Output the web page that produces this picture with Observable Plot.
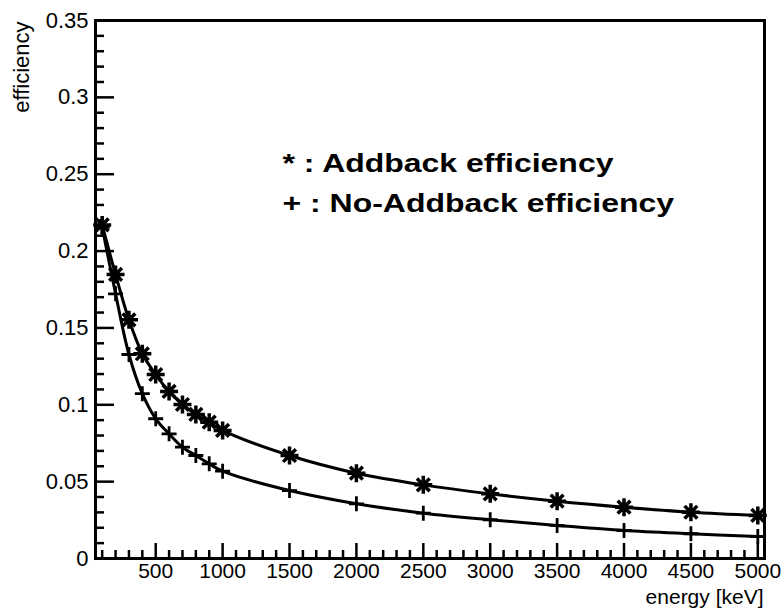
<!DOCTYPE html>
<html>
<head>
<meta charset="utf-8">
<script src="https://cdn.jsdelivr.net/npm/d3@7"></script>
<script src="https://cdn.jsdelivr.net/npm/@observablehq/plot@0.6"></script>
<style>
  html, body { margin: 0; padding: 0; background: #fff; }
  #chart { width: 782px; height: 609px; }
</style>
</head>
<body>
<div id="chart"></div>
<script>
// Gamma energies (keV) at which the efficiency was evaluated
const energies = [100, 200, 300, 400, 500, 600, 700, 800, 900, 1000,
                  1500, 2000, 2500, 3000, 3500, 4000, 4500, 5000];
// Photopeak efficiency with addback
const addback = [0.2170, 0.1848, 0.1553, 0.1332, 0.1197, 0.1087, 0.1002, 0.0937, 0.0887, 0.0833,
                 0.0670, 0.0555, 0.0479, 0.0421, 0.0373, 0.0334, 0.0301, 0.0280];
// Photopeak efficiency without addback
const noAddback = [0.2155, 0.1722, 0.1327, 0.1072, 0.0909, 0.0811, 0.0724, 0.0670, 0.0616, 0.0568,
                   0.0442, 0.0356, 0.0295, 0.0252, 0.0215, 0.0182, 0.0161, 0.0143];

// Axis tick labels
const xTickLabels = [500, 1000, 1500, 2000, 2500, 3000, 3500, 4000, 4500, 5000];
const yTickLabels = ["0", "0.05", "0.1", "0.15", "0.2", "0.25", "0.3", "0.35"];
const legendLabels = ["* : Addback efficiency", "+ : No-Addback efficiency"];

const width = 782, height = 609;
const margin = {top: 20, right: 18, bottom: 51, left: 95};
const innerW = width - margin.left - margin.right;
const innerH = height - margin.top - margin.bottom;

const ab = energies.map((e, i) => ({e, v: addback[i]}));
const nab = energies.map((e, i) => ({e, v: noAddback[i]}));

const yMajor = yTickLabels.map(Number);
const yMinor = d3.range(0, 36).map(i => i / 100).filter(v => !yMajor.some(m => Math.abs(m - v) < 1e-9));
const xMinor = d3.range(100, 5001, 100).filter(v => v % 500 !== 0);

// ROOT-like markers: eight-armed asterisk and plus
const asterisk = {
  draw(ctx, size) {
    const r = Math.sqrt(size / Math.PI), d = r * Math.SQRT1_2;
    ctx.moveTo(-r, 0); ctx.lineTo(r, 0);
    ctx.moveTo(0, -r); ctx.lineTo(0, r);
    ctx.moveTo(-d, -d); ctx.lineTo(d, d);
    ctx.moveTo(-d, d); ctx.lineTo(d, -d);
  }
};
const plus = {
  draw(ctx, size) {
    const r = Math.sqrt(size / Math.PI);
    ctx.moveTo(-r, 0); ctx.lineTo(r, 0);
    ctx.moveTo(0, -r); ctx.lineTo(0, r);
  }
};

const font = "'Liberation Sans', Arial, Helvetica, sans-serif";

const chart = Plot.plot({
  width, height,
  marginTop: margin.top, marginRight: margin.right,
  marginBottom: margin.bottom, marginLeft: margin.left,
  style: {fontFamily: font, fontSize: "22px", color: "black", background: "white"},
  x: {domain: [50, 5050]},
  y: {domain: [0, 0.35]},
  marks: [
    // inward ticks along the bottom axis
    Plot.tickX(xMinor, {x: d => d, insetTop: innerH - 8, stroke: "black", strokeWidth: 2.5}),
    Plot.tickX(xTickLabels, {x: d => d, insetTop: innerH - 15, stroke: "black", strokeWidth: 2.5}),
    // inward ticks along the left axis
    Plot.tickY(yMinor, {y: d => d, insetRight: innerW - 9, stroke: "black", strokeWidth: 2.5}),
    Plot.tickY(yMajor, {y: d => d, insetRight: innerW - 19, stroke: "black", strokeWidth: 2.5}),
    Plot.axisX(xTickLabels, {tickSize: 0, tickPadding: 5, tickFormat: d => String(d), label: null, fontSize: 21}),
    Plot.axisY(yMajor, {tickSize: 0, tickPadding: 7, tickFormat: d => yTickLabels[yMajor.indexOf(d)], label: null, fontSize: 22}),
    // fitted curves
    Plot.line(ab, {x: "e", y: "v", curve: "catmull-rom", stroke: "black", strokeWidth: 3}),
    Plot.line(nab, {x: "e", y: "v", curve: "catmull-rom", stroke: "black", strokeWidth: 3}),
    // data points
    Plot.dot(ab, {x: "e", y: "v", symbol: asterisk, r: 9, fill: "none", stroke: "black", strokeWidth: 3.5}),
    Plot.dot(nab, {x: "e", y: "v", symbol: plus, r: 7.5, fill: "none", stroke: "black", strokeWidth: 2.8}),
    Plot.frame({stroke: "black", strokeWidth: 3}),
    // axis titles
    Plot.text(["energy [keV]"], {frameAnchor: "bottom-right", text: d => d, textAnchor: "end",
      lineAnchor: "bottom", dx: -1, dy: 45, fontSize: 21}),
    Plot.text(["efficiency"], {frameAnchor: "top-left", text: d => d, rotate: -90, textAnchor: "end",
      lineAnchor: "bottom", dx: -67, dy: 1, fontSize: 22}),
    // legend
    Plot.text([legendLabels.join("\n")], {frameAnchor: "top-left", text: d => d, textAnchor: "start",
      lineAnchor: "top", lineHeight: 1.54, dx: 187, dy: 123, fontSize: 26, fontWeight: "bold"})
  ]
});

// widen the legend lettering about its starting point
d3.select(chart).selectAll("text")
  .filter(function() { return this.textContent.includes("Addback"); })
  .each(function() {
    const x = +(this.getAttribute("x") || 0), y = +(this.getAttribute("y") || 0);
    const t = this.getAttribute("transform") || "";
    this.setAttribute("transform",
      `${t} translate(${x},${y}) scale(1.23,1) translate(${-x},${-y})`);
  });

document.getElementById("chart").appendChild(chart);
</script>
</body>
</html>
